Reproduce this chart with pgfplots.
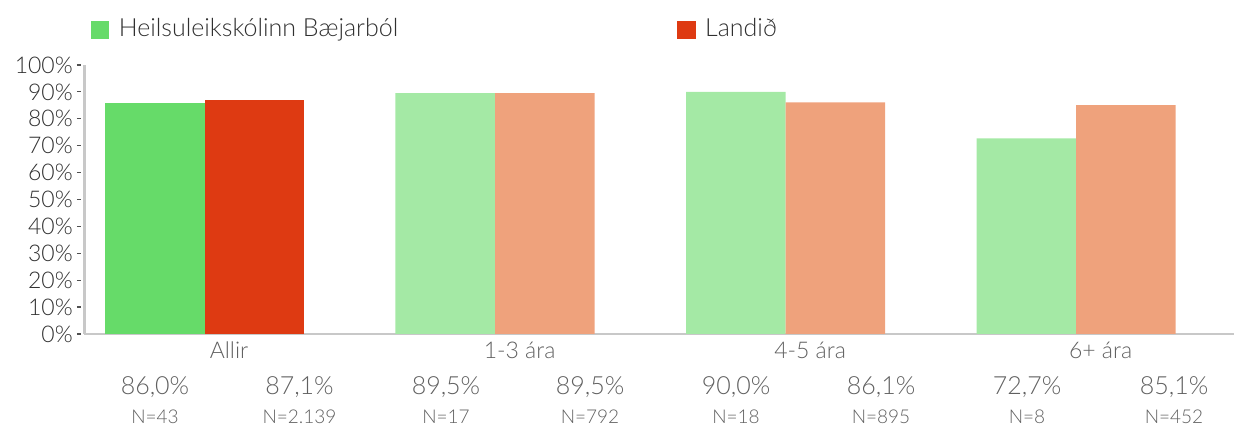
\documentclass[border=0pt]{standalone}
\usepackage{fontspec}
\setmainfont{Lato Light}
\usepackage{pgfplots}
\pgfplotsset{compat=1.18}

\definecolor{grA}{HTML}{66DB69}
\definecolor{grB}{HTML}{A4E9A5}
\definecolor{rdA}{HTML}{DE3A12}
\definecolor{rdB}{HTML}{EFA27C}
\definecolor{axisgray}{HTML}{C8C8C8}
\definecolor{tickgray}{HTML}{505050}
\definecolor{txtdark}{HTML}{303030}
\definecolor{txtgray}{HTML}{606060}

\begin{document}
\begin{tikzpicture}[x=1pt,y=1pt]
\useasboundingbox (0,0) rectangle (1234,428);
\begin{axis}[
    at={(84.3pt,94pt)}, anchor=south west,
    scale only axis,
    width=1149.7pt, height=269pt,
    xmin=-0.414, xmax=3.5435,
    ymin=0, ymax=100,
    axis x line=bottom, axis y line=left,
    x axis line style={-, draw=axisgray, line width=2.5pt},
    y axis line style={-, draw=axisgray, line width=3pt},
    xtick={0,1,2,3},
    xticklabels={Allir,1-3 ára,4-5 ára,6+ ára},
    xtick style={draw=none},
    xticklabel style={font=\fontsize{23}{27}\selectfont, text=txtgray,
        anchor=base, xshift=24.5pt, yshift=-21pt},
    ytick={0,10,...,100},
    yticklabel={\pgfmathprintnumber{\tick}\%},
    yticklabel style={font=\fontsize{23}{27}\selectfont, text=txtdark,
        anchor=east, xshift=-4pt},
    ytick style={draw=tickgray, line width=1.2pt, xshift=-3.5pt},
    tick align=outside, major tick length=4pt,
    /pgf/number format/assume math mode=true,
]
% Heilsuleikskólinn Bæjarból
\addplot[ybar, bar width=99.6pt, bar shift=-49.8pt, fill=grA, draw=none]
    coordinates {(0,86.0)};
\addplot[ybar, bar width=99.6pt, bar shift=-49.8pt, fill=grB, draw=none]
    coordinates {(1,89.5) (2,90.0) (3,72.7)};
% Landið
\addplot[ybar, bar width=99.6pt, bar shift=49.8pt, fill=rdA, draw=none]
    coordinates {(0,87.1)};
\addplot[ybar, bar width=99.6pt, bar shift=49.8pt, fill=rdB, draw=none]
    coordinates {(1,89.5) (2,86.1) (3,85.1)};
\end{axis}

% legend
\fill[grA] (90.5,389) rectangle (108.5,407);
\node[anchor=base west, inner sep=0, text=txtdark, font=\fontsize{25}{29}\selectfont]
    at (118.6,391) {Heilsuleikskólinn Bæjarból};
\fill[rdA] (677,389) rectangle (695.5,407);
\node[anchor=base west, inner sep=0, text=txtdark, font=\fontsize{25}{29}\selectfont]
    at (705,391) {Landið};

% values and counts under the chart
\foreach \xx/\vv/\nn in {155/86{,}0\%/N=43, 299.5/87{,}1\%/N=2.139,
        446/89{,}5\%/N=17, 590/89{,}5\%/N=792,
        736/90{,}0\%/N=18, 881/86{,}1\%/N=895,
        1027/72{,}7\%/N=8, 1174/85{,}1\%/N=452} {
    \node[anchor=base, inner sep=0, text=txtgray, font=\fontsize{25}{29}\selectfont]
        at (\xx,33) {\vv};
    \node[anchor=base, inner sep=0, text=txtgray, font=\fontsize{19}{22}\selectfont]
        at (\xx,4) {\nn};
}
\end{tikzpicture}
\end{document}
